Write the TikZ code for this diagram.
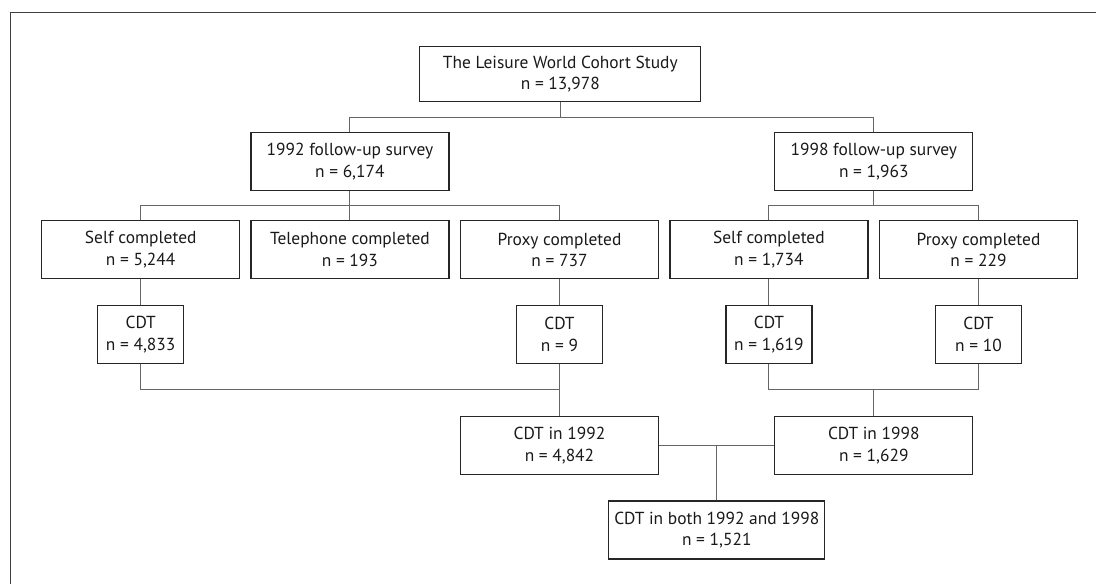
\documentclass[tikz,border=0pt]{standalone}
\usepackage{fontspec}
\setmainfont{PT Sans}
\begin{document}
\begin{tikzpicture}[x=1pt, y=-1pt,
    box/.style={draw=black!85, line width=1.2pt, minimum width=198pt, minimum height=58pt, inner sep=0pt, align=center, text=black!90, font=\fontsize{17.4}{21.6}\selectfont},
    link/.style={draw=black!60, line width=1pt}]
        \useasboundingbox (0, 0) rectangle (1096, 584);
        \draw[black!75, line width=1.2pt] (10.7, 584) -- (10.7, 12.3) -- (1096, 12.3);

        \coordinate (b1) at (0, 117.3);
        \coordinate (b2) at (0, 205.5);
        \coordinate (b3) at (0, 389.3);

        \node[box, minimum width=281pt, minimum height=55pt] (top) at (560.3, 74.2) {The Leisure World Cohort Study\\n = 13,978};
        \node[box] (s92) at (349.9, 161.5) {1992 follow-up survey\\n = 6,174};
        \node[box] (s98) at (873.8, 161.5) {1998 follow-up survey\\n = 1,963};

        \node[box] (self92) at (140.7, 249.8) {Self completed\\n = 5,244};
        \node[box] (tel92) at (349.9, 249.8) {Telephone completed\\n = 193};
        \node[box] (prx92) at (559.5, 249.8) {Proxy completed\\n = 737};
        \node[box] (self98) at (768.9, 249.8) {Self completed\\n = 1,734};
        \node[box] (prx98) at (978.5, 249.8) {Proxy completed\\n = 229};

        \node[box, minimum width=86pt] (cdt1) at (140.7, 334.4) {CDT\\n = 4,833};
        \node[box, minimum width=86pt] (cdt2) at (559.5, 334.4) {CDT\\n = 9};
        \node[box, minimum width=86pt] (cdt3) at (768.9, 334.4) {CDT\\n = 1,619};
        \node[box, minimum width=86pt] (cdt4) at (978.5, 334.4) {CDT\\n = 10};

        \node[box] (y92) at (559.5, 445.3) {CDT in 1992\\n = 4,842};
        \node[box] (y98) at (873.8, 445.3) {CDT in 1998\\n = 1,629};
        \node[box, minimum width=216pt] (both) at (716.8, 529.9) {CDT in both 1992 and 1998\\n = 1,521};

        \draw[link] (top.south) -- (top.south |- b1);
        \draw[link] (s92.north) -- (s92.north |- b1) -- (s98.north |- b1) -- (s98.north);

        \draw[link] (s92.south) -- (s92.south |- b2);
        \draw[link] (self92.north) -- (self92.north |- b2) -- (prx92.north |- b2) -- (prx92.north);
        \draw[link] (tel92.north) -- (tel92.north |- b2);
        \draw[link] (s98.south) -- (s98.south |- b2);
        \draw[link] (self98.north) -- (self98.north |- b2) -- (prx98.north |- b2) -- (prx98.north);

        \draw[link] (self92) -- (cdt1);
        \draw[link] (prx92) -- (cdt2);
        \draw[link] (self98) -- (cdt3);
        \draw[link] (prx98) -- (cdt4);

        \draw[link] (cdt1.south) -- (cdt1.south |- b3) -- (cdt2.south |- b3);
        \draw[link] (cdt2.south) -- (y92.north);
        \draw[link] (cdt3.south) -- (cdt3.south |- b3) -- (cdt4.south |- b3) -- (cdt4.south);
        \draw[link] (y98.north) -- (y98.north |- b3);

        \draw[link] (y92.east) -- (y98.west);
        \draw[link] (both.north) -- (both.north |- y92.east);
    \end{tikzpicture}
\end{document}
